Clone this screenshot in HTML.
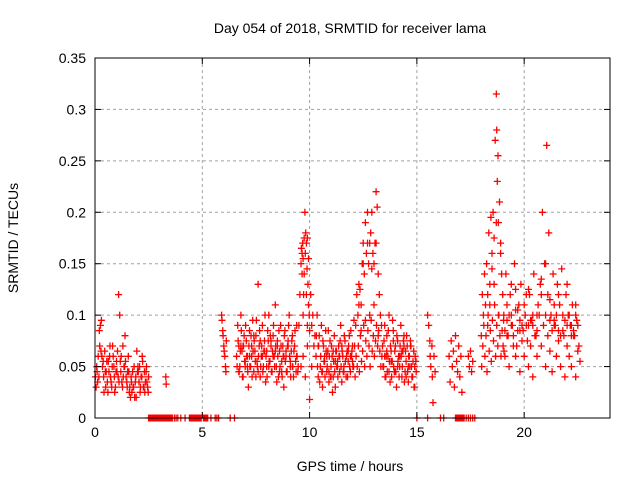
<!DOCTYPE html>
<html><head><meta charset="utf-8"><style>
html,body{margin:0;padding:0;background:#fff;}
svg{display:block;font-family:"Liberation Sans",sans-serif;}
</style></head><body>
<svg id="chart" width="640" height="480" viewBox="0 0 640 480">
<rect width="640" height="480" fill="#fff"/>
<g id="grid"></g>
<g id="points"></g>
<rect x="95" y="58" width="515" height="360" fill="none" stroke="#000" stroke-width="1"/>
<g id="ticks"></g>
<text x="350" y="33" font-size="14" text-anchor="middle">Day 054 of 2018, SRMTID for receiver lama</text>
<text x="350" y="471" font-size="14" text-anchor="middle">GPS time / hours</text>
<text x="18" y="238" font-size="14" text-anchor="middle" transform="rotate(-90 18 238)">SRMTID / TECUs</text>
</svg>
<script>
const xTicks=[0,5,10,15,20];
const xTickLabels=["0","5","10","15","20"];
const yTicks=[0,0.05,0.1,0.15,0.2,0.25,0.3,0.35];
const yTickLabels=["0","0.05","0.1","0.15","0.2","0.25","0.3","0.35"];

const hoursA=[0.05,0.1,0.15,0.2,0.25,0.3,0.35,0.4,0.45,0.5,0.55,0.6,0.65,0.7,0.75,0.8,0.85,0.9,0.95,1.0,1.05,1.1,1.15,1.2,1.25,1.3,1.35,1.4,1.45,1.5,1.55,1.6,1.65,1.7,1.75,1.8,1.85,1.9,1.95,2.0,2.05,2.1,2.15,2.2,2.25,2.3,2.35,2.4,2.45,2.5,
0.02,0.12,0.22,0.32,0.42,0.52,0.62,0.72,0.82,0.92,1.02,1.12,1.22,1.32,1.42,1.52,1.62,1.72,1.82,1.92,2.02,2.12,2.22,2.32,2.42,3.3,3.32];
const valuesA=[0.03,0.045,0.06,0.085,0.09,0.095,0.05,0.04,0.065,0.03,0.055,0.025,0.045,0.07,0.035,0.05,0.06,0.04,0.03,0.055,0.065,0.12,0.1,0.045,0.035,0.07,0.05,0.08,0.04,0.03,0.06,0.025,0.02,0.035,0.045,0.03,0.02,0.04,0.065,0.05,0.035,0.025,0.04,0.06,0.03,0.045,0.035,0.05,0.03,0.04,
0.04,0.035,0.07,0.06,0.025,0.045,0.055,0.04,0.07,0.025,0.045,0.035,0.06,0.04,0.055,0.045,0.03,0.025,0.05,0.02,0.045,0.03,0.055,0.025,0.035,0.04,0.033];

const hoursB=[5.9,5.92,5.95,5.97,6.0,6.02,6.05,6.08,6.1,6.12];
const valuesB=[0.1,0.095,0.085,0.08,0.07,0.065,0.06,0.05,0.045,0.075];

const hoursC=[6.6,6.65,6.7,6.75,6.8,6.85,6.9,6.95,7.0,7.05,7.1,7.15,7.2,7.25,7.3,7.35,7.4,7.45,7.5,7.55,7.6,7.65,7.7,7.75,7.8,7.85,7.9,7.95,8.0,8.05,8.1,8.15,8.2,8.25,8.3,8.35,8.4,8.45,8.5,8.55,8.6,8.65,8.7,8.75,8.8,8.85,8.9,8.95,9.0,9.05,9.1,9.15,9.2,9.25,9.3,9.35,9.4,9.45,
6.62,6.67,6.72,6.77,6.82,6.87,6.92,6.97,7.02,7.07,7.12,7.17,7.22,7.27,7.32,7.37,7.42,7.47,7.52,7.57,7.62,7.67,7.72,7.77,7.82,7.87,7.92,7.97,8.02,8.07,8.12,8.17,8.22,8.27,8.32,8.37,8.42,8.47,8.52,8.57,8.62,8.67,8.72,8.77,8.82,8.87,8.92,8.97,9.02,9.07,9.12,9.17,9.22,9.27,9.32,9.37,9.42,9.47];
const valuesC=[0.06,0.09,0.07,0.05,0.1,0.065,0.04,0.08,0.055,0.075,0.06,0.03,0.085,0.05,0.07,0.095,0.045,0.065,0.08,0.055,0.13,0.07,0.04,0.06,0.09,0.05,0.075,0.035,0.065,0.085,0.1,0.055,0.07,0.045,0.08,0.06,0.11,0.05,0.075,0.04,0.065,0.09,0.055,0.07,0.03,0.085,0.06,0.045,0.075,0.1,0.05,0.065,0.08,0.04,0.07,0.055,0.09,0.045,
0.05,0.075,0.045,0.065,0.085,0.04,0.07,0.055,0.09,0.06,0.045,0.07,0.05,0.08,0.04,0.065,0.075,0.055,0.095,0.05,0.06,0.085,0.05,0.07,0.045,0.065,0.1,0.06,0.04,0.075,0.055,0.08,0.045,0.065,0.09,0.05,0.07,0.035,0.06,0.085,0.05,0.07,0.04,0.06,0.08,0.055,0.045,0.07,0.09,0.06,0.04,0.075,0.05,0.065,0.085,0.045,0.06,0.05];

const hoursD=[9.5,9.55,9.6,9.62,9.65,9.68,9.7,9.72,9.75,9.78,9.8,9.82,9.85,9.88,9.9,9.92,9.95,9.98,10.0,10.05,10.1,10.15,10.2,10.25,9.6,9.7,9.8,9.9,10.0,10.1];
const valuesD=[0.09,0.12,0.15,0.165,0.14,0.17,0.155,0.12,0.175,0.2,0.16,0.18,0.17,0.145,0.175,0.13,0.11,0.1,0.085,0.12,0.09,0.1,0.07,0.08,0.05,0.06,0.04,0.07,0.018,0.05];

const hoursE=[10.3,10.35,10.4,10.45,10.5,10.55,10.6,10.65,10.7,10.75,10.8,10.85,10.9,10.95,11.0,11.05,11.1,11.15,11.2,11.25,11.3,11.35,11.4,11.45,11.5,11.55,11.6,11.65,11.7,11.75,11.8,11.85,11.9,11.95,12.0,12.05,
10.32,10.37,10.42,10.47,10.52,10.57,10.62,10.67,10.72,10.77,10.82,10.87,10.92,10.97,11.02,11.07,11.12,11.17,11.22,11.27,11.32,11.37,11.42,11.47,11.52,11.57,11.62,11.67,11.72,11.77,11.82,11.87,11.92,11.97,12.02,12.07];
const valuesE=[0.06,0.1,0.04,0.08,0.05,0.09,0.03,0.07,0.055,0.085,0.045,0.065,0.035,0.075,0.05,0.06,0.04,0.08,0.03,0.065,0.055,0.07,0.045,0.09,0.035,0.06,0.05,0.075,0.04,0.065,0.055,0.08,0.045,0.06,0.07,0.05,
0.08,0.05,0.07,0.035,0.06,0.045,0.075,0.055,0.04,0.065,0.05,0.085,0.06,0.04,0.07,0.025,0.055,0.045,0.065,0.05,0.04,0.06,0.075,0.05,0.065,0.045,0.08,0.055,0.06,0.04,0.07,0.05,0.085,0.065,0.05,0.095];

const hoursF=[12.1,12.15,12.2,12.25,12.3,12.35,12.4,12.45,12.5,12.55,12.6,12.65,12.7,12.75,12.8,12.85,12.9,12.95,13.0,13.05,13.1,13.15,13.2,13.25,13.3,13.35,
12.12,12.17,12.22,12.27,12.32,12.37,12.42,12.47,12.52,12.57,12.62,12.67,12.72,12.77,12.82,12.87,12.92,12.97,13.02,13.07,13.12,13.17,13.22,13.27,13.32,13.37];
const valuesF=[0.07,0.09,0.12,0.1,0.13,0.125,0.11,0.15,0.17,0.14,0.19,0.16,0.2,0.15,0.17,0.18,0.2,0.16,0.15,0.17,0.22,0.205,0.14,0.12,0.1,0.09,
0.04,0.06,0.05,0.07,0.045,0.08,0.055,0.065,0.09,0.05,0.075,0.06,0.085,0.07,0.05,0.095,0.065,0.08,0.06,0.075,0.09,0.07,0.085,0.065,0.05,0.06];

const hoursG=[13.4,13.45,13.5,13.55,13.6,13.65,13.7,13.75,13.8,13.85,13.9,13.95,14.0,14.05,14.1,14.15,14.2,14.25,14.3,14.35,14.4,14.45,14.5,14.55,14.6,14.65,14.7,14.75,14.8,14.85,14.9,14.95,
13.42,13.47,13.52,13.57,13.62,13.67,13.72,13.77,13.82,13.87,13.92,13.97,14.02,14.07,14.12,14.17,14.22,14.27,14.32,14.37,14.42,14.47,14.52,14.57,14.62,14.67,14.72,14.77,14.82,14.87,14.92,14.97];
const valuesG=[0.07,0.05,0.09,0.04,0.08,0.06,0.1,0.035,0.065,0.055,0.085,0.045,0.07,0.03,0.075,0.06,0.05,0.09,0.04,0.065,0.08,0.045,0.055,0.07,0.035,0.06,0.075,0.05,0.04,0.065,0.03,0.055,
0.05,0.075,0.04,0.06,0.045,0.085,0.055,0.07,0.04,0.095,0.05,0.065,0.045,0.08,0.055,0.04,0.07,0.06,0.05,0.075,0.035,0.065,0.08,0.045,0.06,0.05,0.07,0.04,0.055,0.03,0.06,0.045];

const hoursH=[15.5,15.55,15.6,15.62,15.65,15.7,15.72,15.75,15.8,15.85,16.5,16.55,16.6,16.65,16.7,16.75,16.8,16.85,16.9,16.95,17.0,17.05,17.1,17.4,17.45,17.5,17.55,17.6];
const valuesH=[0.1,0.09,0.075,0.06,0.05,0.07,0.04,0.015,0.06,0.045,0.06,0.035,0.075,0.05,0.065,0.03,0.08,0.055,0.045,0.07,0.04,0.06,0.025,0.06,0.05,0.065,0.045,0.055];

const hoursJ=[18.0,18.05,18.1,18.15,18.2,18.25,18.3,18.35,18.4,18.45,18.5,18.55,18.6,18.65,18.7,18.72,18.75,18.78,18.8,18.85,18.9,18.95,19.0,
18.02,18.07,18.12,18.17,18.22,18.27,18.32,18.37,18.42,18.47,18.52,18.57,18.62,18.67,18.72,18.77,18.82,18.87,18.92,18.97,19.02,19.04,19.06];
const valuesJ=[0.08,0.12,0.1,0.14,0.11,0.15,0.09,0.18,0.13,0.195,0.16,0.2,0.175,0.27,0.315,0.28,0.23,0.255,0.19,0.21,0.16,0.14,0.12,
0.05,0.07,0.09,0.06,0.08,0.045,0.1,0.065,0.085,0.055,0.095,0.075,0.11,0.06,0.09,0.07,0.1,0.08,0.06,0.085,0.07,0.095,0.065];

const hoursK=[19.05,19.15,19.25,19.35,19.45,19.55,19.65,19.75,19.85,19.95,20.05,20.15,20.25,20.35,20.45,20.55,20.65,20.75,20.85,20.95,21.05,21.15,21.25,21.35,21.45,21.55,21.65,21.75,21.85,21.95,22.05,22.15,22.25,22.35,22.45,22.55,
19.1,19.2,19.3,19.4,19.5,19.6,19.7,19.8,19.9,20.0,20.1,20.2,20.3,20.4,20.5,20.6,20.7,20.8,20.9,21.0,21.1,21.2,21.3,21.4,21.5,21.6,21.7,21.8,21.9,22.0,22.1,22.2,22.3,22.4,22.5,22.6,
19.0,19.2,19.4,19.6,19.8,20.0,20.2,20.4,20.6,20.8,21.0,21.2,21.4,21.6,21.8,22.0,22.2,22.4];
const valuesK=[0.1,0.14,0.08,0.12,0.09,0.15,0.07,0.11,0.13,0.085,0.1,0.075,0.12,0.095,0.14,0.08,0.11,0.13,0.2,0.15,0.265,0.18,0.1,0.14,0.09,0.13,0.11,0.145,0.08,0.12,0.1,0.09,0.11,0.08,0.095,0.07,
0.06,0.08,0.05,0.09,0.07,0.06,0.085,0.045,0.075,0.06,0.09,0.05,0.07,0.04,0.08,0.06,0.1,0.07,0.09,0.05,0.08,0.065,0.045,0.09,0.06,0.075,0.05,0.085,0.04,0.07,0.06,0.05,0.08,0.04,0.065,0.055,
0.12,0.095,0.13,0.105,0.085,0.11,0.125,0.09,0.1,0.135,0.15,0.115,0.095,0.12,0.1,0.13,0.09,0.11];

const hoursX=[0.08,0.18,0.28,0.38,0.48,0.58,0.68,0.78,0.88,0.98,1.08,1.18,1.28,1.38,1.48,1.58,1.68,1.78,1.88,1.98,2.08,2.18,2.28,2.38,2.48,
6.7,6.9,7.1,7.3,7.5,7.7,7.9,8.1,8.3,8.5,8.7,8.9,9.1,9.3,
6.8,7.0,7.2,7.4,7.6,7.8,8.0,8.2,8.4,8.6,8.8,9.0,9.2,9.4,
9.65,9.75,9.85,9.95,9.7,9.9,
10.4,10.6,10.8,11.0,11.2,11.4,11.6,11.8,12.0,10.5,10.7,10.9,11.1,11.3,11.5,11.7,11.9,
12.3,12.5,12.7,12.9,13.1,12.4,12.6,12.8,13.0,13.2,
13.5,13.7,13.9,14.1,14.3,14.5,14.7,14.9,13.6,13.8,14.0,14.2,14.4,14.6,14.8,
18.3,18.5,18.7,18.9,18.4,18.6,18.8,
19.1,19.3,19.5,19.7,19.9,20.1,20.3,20.5,20.7,20.9,21.1,21.3,21.5,21.7,21.9,22.1,22.3,22.5,
19.2,19.4,19.6,19.8,20.0,20.2,20.4,20.6,20.8,21.0,21.2,21.4,21.6,21.8,22.0,22.2,22.4];
const valuesX=[0.05,0.04,0.065,0.055,0.045,0.035,0.06,0.03,0.05,0.045,0.04,0.055,0.03,0.05,0.035,0.045,0.04,0.03,0.035,0.045,0.05,0.04,0.03,0.045,0.025,
0.045,0.07,0.05,0.06,0.04,0.075,0.065,0.05,0.06,0.07,0.045,0.065,0.055,0.07,
0.07,0.05,0.06,0.08,0.045,0.06,0.05,0.075,0.065,0.045,0.06,0.07,0.05,0.06,
0.16,0.14,0.12,0.155,0.1,0.09,
0.07,0.045,0.06,0.04,0.055,0.06,0.045,0.065,0.055,0.05,0.06,0.045,0.065,0.05,0.07,0.04,0.06,
0.11,0.15,0.17,0.145,0.17,0.085,0.095,0.1,0.11,0.08,
0.06,0.045,0.075,0.05,0.065,0.04,0.07,0.05,0.065,0.055,0.045,0.06,0.07,0.05,0.04,
0.12,0.145,0.19,0.17,0.11,0.13,0.1,
0.085,0.1,0.08,0.105,0.09,0.12,0.095,0.08,0.1,0.09,0.12,0.085,0.1,0.08,0.095,0.1,0.085,0.09,
0.11,0.1,0.125,0.095,0.11,0.09,0.1,0.085,0.12,0.1,0.095,0.11,0.085,0.1,0.09,0.08,0.1];

const zeroHours=[2.5,2.55,2.6,2.65,2.7,2.75,2.8,2.85,2.9,2.95,3.0,3.05,3.1,3.15,3.2,3.25,3.3,3.35,3.4,3.45,3.5,3.55,3.6,3.7,3.78,3.86,4.0,4.2,4.4,4.45,4.5,4.55,4.6,4.65,4.7,4.75,4.8,4.85,4.9,4.95,5.05,5.1,5.15,5.2,5.25,5.4,5.6,5.68,5.76,6.3,6.5,15.0,15.5,16.1,16.25,16.8,16.85,16.9,16.95,17.0,17.05,17.1,17.15,17.2,17.3,17.4,17.5,17.6,17.7];

const hoursAll=[].concat(hoursA,hoursB,hoursC,hoursD,hoursE,hoursF,hoursG,hoursH,hoursJ,hoursK,hoursX,zeroHours);
const valuesAll=[].concat(valuesA,valuesB,valuesC,valuesD,valuesE,valuesF,valuesG,valuesH,valuesJ,valuesK,valuesX,zeroHours.map(()=>0));

const X0=95,X1=610,Y0=418,Y1=58,XMAX=24,YMAX=0.35;
function xScale(h){return X0+(h/XMAX)*(X1-X0);}
function yScale(v){return Y0-(v/YMAX)*(Y0-Y1);}
const NS="http://www.w3.org/2000/svg";
const grid=document.getElementById('grid'),ticks=document.getElementById('ticks'),pts=document.getElementById('points');
function mk(tag,attrs,parent){const e=document.createElementNS(NS,tag);for(const k in attrs)e.setAttribute(k,attrs[k]);parent.appendChild(e);return e;}

xTicks.forEach((t,i)=>{
  const x=xScale(t);
  if(t>0){const g=mk('line',{x1:x,y1:Y1,x2:x,y2:Y0,stroke:'#a0a0a0','stroke-dasharray':'3,3'},grid);
  
  }
  mk('line',{x1:x,y1:Y0,x2:x,y2:Y0-6,stroke:'#000'},ticks);
  mk('line',{x1:x,y1:Y1,x2:x,y2:Y1+6,stroke:'#000'},ticks);
  const tx=mk('text',{x:x,y:Y0+19,'font-size':14,'text-anchor':'middle'},ticks);
  tx.textContent=xTickLabels[i];
  
  
});
yTicks.forEach((t,i)=>{
  const y=yScale(t);
  if(t>0&&t<YMAX){const g=mk('line',{x1:X0,y1:y,x2:X1,y2:y,stroke:'#a0a0a0','stroke-dasharray':'3,3'},grid);
  
  }
  mk('line',{x1:X0,y1:y,x2:X0+6,y2:y,stroke:'#000'},ticks);
  mk('line',{x1:X1,y1:y,x2:X1-6,y2:y,stroke:'#000'},ticks);
  const tx=mk('text',{x:X0-9,y:y+5,'font-size':14,'text-anchor':'end'},ticks);
  tx.textContent=yTickLabels[i];
  
  
});
let d='';
for(let i=0;i<hoursAll.length;i++){
  const x=xScale(hoursAll[i]),y=yScale(valuesAll[i]);
  d+='M'+(x-3.5).toFixed(1)+' '+y.toFixed(1)+'h7M'+x.toFixed(1)+' '+(y-3.5).toFixed(1)+'v7';
}
const p=mk('path',{d:d,stroke:'#ff0000','stroke-width':1.3,fill:'none'},pts);


</script>
</body></html>
